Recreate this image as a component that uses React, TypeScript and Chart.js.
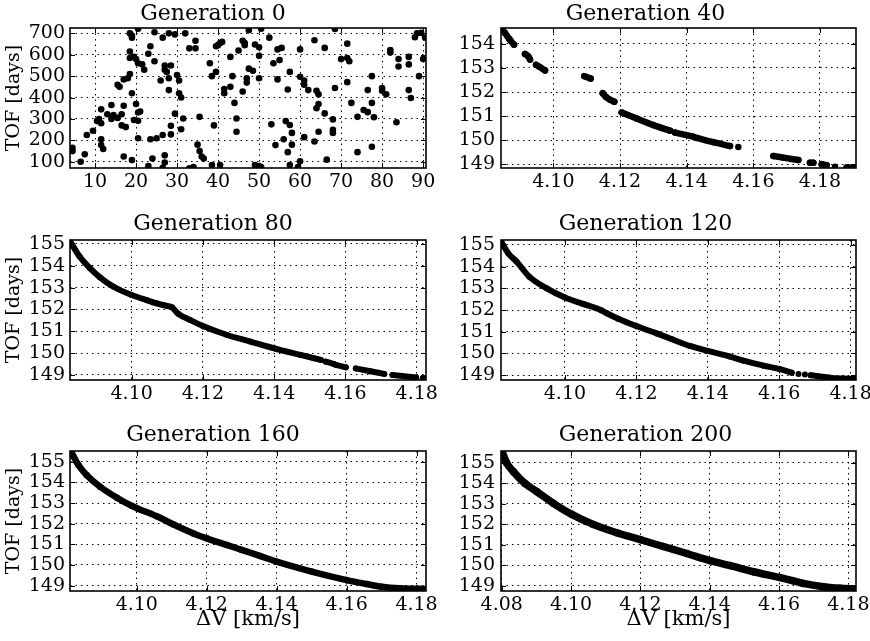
import React, { useEffect, useRef } from "react";
import { Chart, registerables } from "chart.js";

Chart.register(...registerables);

// ---------------- data ----------------
const GEN0_POINTS: [number, number][] = [
  [4.5, 165], [4.5, 150], [6.5, 100], [7.5, 135], [8, 225], [9.5, 245], [10.5, 290], [11, 300],
  [11.5, 345], [11.5, 280], [11.5, 205], [11.5, 178], [12, 160], [13, 322], [14, 365], [14, 300],
  [14.5, 318], [15.5, 305], [15.5, 460], [16, 450], [16.5, 322], [16.5, 270], [17, 362], [17, 485],
  [17, 125], [17.5, 262], [18, 490], [18.5, 510], [18.5, 615], [18.5, 585], [18.5, 700], [19, 680],
  [19, 690], [19, 420], [19.5, 295], [19.5, 590], [19, 108], [20, 580], [20, 370], [20.5, 330],
  [20.5, 292], [20.5, 560], [20.5, 210], [21, 335], [20.5, 722], [21.5, 555], [22, 530], [23, 605],
  [23.5, 640], [23, 80], [23.5, 205], [24, 115], [24.5, 570], [24.5, 705], [25, 210], [26, 480],
  [26.5, 225], [26.5, 680], [27, 550], [27, 530], [27, 97], [27, 130], [27.5, 520], [26.5, 72],
  [28, 700], [28, 490], [28, 435], [28.5, 550], [28.5, 228], [28.5, 268], [29.5, 695], [29.5, 325],
  [30, 505], [30.5, 420], [30.5, 480], [31, 400], [31, 252], [31.5, 302], [32, 700], [33, 630],
  [33, 70], [34, 75], [34.5, 630], [34.5, 665], [35, 180], [35.5, 310], [35.5, 150], [36, 125],
  [36.5, 115], [38, 560], [38.5, 500], [38.5, 85], [39, 270], [39.5, 640], [39.5, 520], [40, 645],
  [40.5, 655], [41, 660], [40.5, 85], [41.5, 440], [41.5, 420], [43, 450], [43, 590], [43.5, 500],
  [44, 375], [44.5, 302], [44.5, 240], [45, 620], [46, 665], [46.5, 655], [46.5, 645], [46, 428],
  [47, 490], [47, 470], [47.5, 535], [47.5, 715], [48.5, 525], [49, 648], [49, 85], [50, 635],
  [50, 595], [50, 490], [50, 80], [50.5, 75], [50.5, 722], [52.5, 680], [53, 275], [53.5, 560],
  [54, 178], [54.5, 485], [54.5, 625], [55, 575], [55.5, 632], [56, 205], [56.5, 290], [57, 438],
  [57, 145], [57.5, 520], [57.5, 272], [57.5, 85], [58, 235], [58, 180], [59.5, 75], [60, 625],
  [60, 497], [60, 102], [61, 460], [61, 480], [61, 215], [62, 435], [63.5, 668], [63.5, 195],
  [64, 432], [64, 350], [64.5, 415], [64.5, 370], [64.5, 240], [66, 326], [66, 632], [66.5, 110],
  [68, 298], [68, 250], [68, 235], [68.5, 445], [68.5, 720], [70, 580], [71.5, 652], [71.5, 585],
  [71.5, 472], [72, 570], [72.5, 375], [74, 310], [74, 145], [75.5, 342], [76.5, 332], [76.5, 435],
  [77.5, 375], [77.5, 500], [77.5, 170], [78, 308], [80, 445], [80, 432], [81, 415], [82, 622],
  [82, 610], [83.5, 285], [84, 545], [84, 580], [86.5, 435], [86.5, 555], [86.5, 590], [87, 398],
  [88, 682], [88.5, 700], [89, 500], [89.5, 702], [90, 580], [90.5, 680],
];

const GEN40_SEGMENTS: [number, number][][] = [
  [[4.0843, 154.66], [4.0855, 154.45], [4.0868, 154.2], [4.0882, 153.97]],
  [[4.0915, 153.58], [4.0925, 153.48], [4.093, 153.35]],
  [[4.0948, 153.13], [4.0958, 153.05], [4.0975, 152.9]],
  [[4.1093, 152.66], [4.1112, 152.56]],
  [[4.1148, 151.95], [4.1158, 151.8], [4.117, 151.68], [4.1183, 151.6]],
  [[4.1205, 151.15], [4.125, 150.9], [4.13, 150.63], [4.135, 150.4]],
  [[4.1365, 150.32], [4.142, 150.15]],
  [[4.143, 150.1], [4.148, 149.92], [4.153, 149.76]],
  [[4.1555, 149.72]],
  [[4.166, 149.35], [4.169, 149.28], [4.1735, 149.18]],
  [[4.177, 149.07], [4.178, 149.07]],
  [[4.1805, 149.01], [4.182, 148.96]],
  [[4.1845, 148.9]],
  [[4.188, 148.87], [4.191, 148.86]],
];

const GEN80_SEGMENTS: [number, number][][] = [
  [
    [4.0828, 155.1], [4.0854, 154.42], [4.0883, 153.89], [4.0911, 153.47], [4.0948, 153.05],
    [4.1, 152.66], [4.1042, 152.43], [4.107, 152.28], [4.1099, 152.16], [4.1113, 152.1],
    [4.1131, 151.8], [4.1164, 151.52], [4.12, 151.24], [4.1268, 150.83], [4.1333, 150.53],
    [4.14, 150.22], [4.1474, 149.92], [4.1531, 149.69],
  ],
  [[4.1545, 149.61], [4.1568, 149.5]],
  [[4.1573, 149.46], [4.1601, 149.35]],
  [[4.1629, 149.3], [4.167, 149.17], [4.1709, 149.05]],
  [[4.1732, 149.0], [4.1798, 148.89]],
  [[4.1817, 148.85], [4.1831, 148.85]],
];

const GEN120_SEGMENTS: [number, number][][] = [
  [
    [4.082, 155.2], [4.0841, 154.62], [4.0865, 154.23], [4.09, 153.54], [4.0949, 153.0],
    [4.1, 152.58], [4.1051, 152.28], [4.11, 152.0], [4.1117, 151.85], [4.1149, 151.6],
    [4.12, 151.26], [4.1257, 150.92], [4.13, 150.65], [4.135, 150.34], [4.14, 150.11],
    [4.1462, 149.85], [4.15, 149.66], [4.1556, 149.43], [4.16, 149.28], [4.1635, 149.11],
  ],
  [[4.1654, 149.05]],
  [[4.1672, 149.02]],
  [[4.1688, 148.99], [4.174, 148.88], [4.178, 148.84], [4.182, 148.82]],
];

const GEN160_SEGMENTS: [number, number][][] = [
  [
    [4.0811, 155.53], [4.0833, 154.84], [4.0857, 154.35], [4.0895, 153.79], [4.0943, 153.26],
    [4.0986, 152.86], [4.1002, 152.74], [4.1057, 152.36], [4.1105, 151.96],
    [4.1162, 151.53], [4.12, 151.29], [4.1257, 150.97], [4.13, 150.73], [4.1352, 150.44],
    [4.14, 150.16], [4.15, 149.68], [4.16, 149.27], [4.1657, 149.08], [4.17, 148.95],
    [4.1752, 148.87], [4.1829, 148.84],
  ],
];

const GEN200_SEGMENTS: [number, number][][] = [
  [
    [4.08, 155.59], [4.0814, 155.0], [4.0834, 154.56], [4.0867, 153.99], [4.0901, 153.59],
    [4.0949, 153.02], [4.1002, 152.48], [4.1064, 151.99], [4.1132, 151.58], [4.1201, 151.24],
    [4.1266, 150.91], [4.1334, 150.57], [4.1401, 150.22], [4.1459, 149.98], [4.1526, 149.68],
    [4.1601, 149.4], [4.167, 149.11], [4.1728, 148.95], [4.1776, 148.87], [4.1824, 148.85],
  ],
];

const GEN0_X_TICKS = [10, 20, 30, 40, 50, 60, 70, 80, 90];
const GEN0_Y_TICKS = [100, 200, 300, 400, 500, 600, 700];
const DV_TICKS = [4.08, 4.1, 4.12, 4.14, 4.16, 4.18];
const TOF_TICKS = [149, 150, 151, 152, 153, 154, 155];

const TITLES = ["Generation 0", "Generation 40", "Generation 80", "Generation 120", "Generation 160", "Generation 200"];
const Y_LABEL = "TOF [days]";
const X_LABEL = "ΔV [km/s]";

// ---------------- layout / style ----------------
const SERIF = "'DejaVu Serif', 'Liberation Serif', serif";

const COLS = [
  { left: 0, width: 496, axisW: 70, padR: 70, labelPad: 5 },
  { left: 435, width: 487, axisW: 66, padR: 66, labelPad: 6 },
];
const ROWS = [
  { top: 0, height: 211, tTop: 3, tBot: 3, axisH: 43 },
  { top: 211, height: 211, tTop: 2.5, tBot: 4.5, axisH: 42 },
  { top: 422, height: 219, tTop: 2.5, tBot: 4.5, axisH: 50 },
];

type PanelSpec = {
  title: string;
  points?: [number, number][];
  segments?: [number, number][][];
  xRange: [number, number];
  yRange: [number, number];
  xTicks: number[];
  yTicks: number[];
  xDecimals: number;
  col: number;
  row: number;
  lw: number;
};

const PANELS: PanelSpec[] = [
  { title: TITLES[0], points: GEN0_POINTS, xRange: [3.9, 90.7], yRange: [71, 725], xTicks: GEN0_X_TICKS, yTicks: GEN0_Y_TICKS, xDecimals: 0, col: 0, row: 0, lw: 6.6 },
  { title: TITLES[1], segments: GEN40_SEGMENTS, xRange: [4.0843, 4.1908], yRange: [148.85, 154.66], xTicks: DV_TICKS, yTicks: TOF_TICKS, xDecimals: 2, col: 1, row: 0, lw: 6.5 },
  { title: TITLES[2], segments: GEN80_SEGMENTS, xRange: [4.0827, 4.1826], yRange: [148.77, 155.18], xTicks: DV_TICKS, yTicks: TOF_TICKS, xDecimals: 2, col: 0, row: 1, lw: 6 },
  { title: TITLES[3], segments: GEN120_SEGMENTS, xRange: [4.0821, 4.1815], yRange: [148.77, 155.23], xTicks: DV_TICKS, yTicks: TOF_TICKS, xDecimals: 2, col: 1, row: 1, lw: 6 },
  { title: TITLES[4], segments: GEN160_SEGMENTS, xRange: [4.0809, 4.1827], yRange: [148.74, 155.52], xTicks: DV_TICKS, yTicks: TOF_TICKS, xDecimals: 2, col: 0, row: 2, lw: 6.5 },
  { title: TITLES[5], segments: GEN200_SEGMENTS, xRange: [4.0798, 4.1822], yRange: [148.74, 155.57], xTicks: DV_TICKS, yTicks: TOF_TICKS, xDecimals: 2, col: 1, row: 2, lw: 7.5 },
];

const inRange = (v: number, r: [number, number]) => v >= r[0] - 1e-9 && v <= r[1] + 1e-9;

const frameTicks = {
  id: "frameTicks",
  afterDatasetsDraw(chart: any) {
    const { ctx, chartArea } = chart;
    const { left, right, top, bottom } = chartArea;
    const xs = chart.scales.x;
    const ys = chart.scales.y;
    ctx.save();
    ctx.strokeStyle = "#000";
    ctx.lineWidth = 1;
    ctx.beginPath();
    xs.ticks.forEach((t: any) => {
      const px = Math.round(xs.getPixelForValue(t.value)) + 0.5;
      ctx.moveTo(px, bottom);
      ctx.lineTo(px, bottom - 5);
      ctx.moveTo(px, top);
      ctx.lineTo(px, top + 5);
    });
    ys.ticks.forEach((t: any) => {
      const py = Math.round(ys.getPixelForValue(t.value)) + 0.5;
      ctx.moveTo(left, py);
      ctx.lineTo(left + 5, py);
      ctx.moveTo(right, py);
      ctx.lineTo(right - 5, py);
    });
    ctx.stroke();
    ctx.lineWidth = 1.6;
    ctx.strokeRect(left, top, right - left, bottom - top);
    ctx.restore();
  },
};

function buildData(spec: PanelSpec) {
  if (spec.points) return spec.points.map(([x, y]) => ({ x, y }));
  const out: any[] = [];
  (spec.segments || []).forEach((seg, i) => {
    if (i > 0) out.push({ x: null, y: null });
    seg.forEach(([x, y]) => out.push({ x, y }));
  });
  return out;
}

function Panel({ spec }: { spec: PanelSpec }) {
  const ref = useRef<HTMLCanvasElement | null>(null);
  const col = COLS[spec.col];
  const row = ROWS[spec.row];
  useEffect(() => {
    if (!ref.current) return;
    const isCurve = !spec.points;
    const tickFont = { family: SERIF, size: 19, lineHeight: 1.2 };
    const xTicks = spec.xTicks.filter((v) => inRange(v, spec.xRange));
    const yTicks = spec.yTicks.filter((v) => inRange(v, spec.yRange));
    const chart = new Chart(ref.current, {
      type: "scatter",
      data: {
        datasets: [
          {
            data: buildData(spec),
            showLine: isCurve,
            borderColor: "#000",
            backgroundColor: "#000",
            borderWidth: spec.lw,
            borderCapStyle: "round",
            borderJoinStyle: "round",
            cubicInterpolationMode: "monotone",
            pointRadius: spec.lw / 2,
            pointBorderWidth: 0,
            pointBackgroundColor: "#000",
            pointHoverRadius: spec.lw / 2,
            spanGaps: false,
            clip: 0,
          } as any,
        ],
      },
      options: {
        responsive: false,
        animation: false,
        devicePixelRatio: 1,
        events: [],
        layout: { padding: { left: 0, right: col.padR, top: 0, bottom: 0 } },
        plugins: {
          legend: { display: false },
          tooltip: { enabled: false },
          title: {
            display: true,
            text: spec.title,
            color: "#000",
            font: { family: SERIF, size: 22, lineHeight: 1, weight: "normal" },
            padding: { top: row.tTop, bottom: row.tBot },
          },
        },
        scales: {
          x: {
            type: "linear",
            position: "bottom",
            bounds: "data",
            min: spec.xRange[0],
            max: spec.xRange[1],
            afterBuildTicks: (s: any) => {
              s.ticks = xTicks.map((v) => ({ value: v }));
            },
            afterFit: (s: any) => {
              s.height = row.axisH;
              s.paddingLeft = 0;
              s.paddingRight = 0;
            },
            ticks: {
              autoSkip: false,
              maxRotation: 0,
              minRotation: 0,
              padding: 2.5,
              color: "#000",
              font: tickFont,
              callback: (v: any) => Number(v).toFixed(spec.xDecimals),
            },
            grid: { color: "#000", lineWidth: 1, drawTicks: false },
            border: { display: false, dash: [1.5, 4] },
            title: {
              display: spec.row === 2,
              text: X_LABEL,
              color: "#000",
              font: { family: SERIF, size: 21, lineHeight: 1 },
              padding: { top: 0, bottom: 11 },
            },
          },
          y: {
            type: "linear",
            position: "left",
            bounds: "data",
            min: spec.yRange[0],
            max: spec.yRange[1],
            afterBuildTicks: (s: any) => {
              s.ticks = yTicks.map((v) => ({ value: v }));
            },
            afterFit: (s: any) => {
              s.width = col.axisW;
              s.paddingTop = 0;
              s.paddingBottom = 0;
            },
            ticks: {
              autoSkip: false,
              padding: col.labelPad,
              color: "#000",
              font: tickFont,
              callback: (v: any) => String(Math.round(Number(v))),
            },
            grid: { color: "#000", lineWidth: 1, drawTicks: false },
            border: { display: false, dash: [1.5, 4] },
            title: {
              display: spec.col === 0,
              text: Y_LABEL,
              color: "#000",
              font: { family: SERIF, size: 19, lineHeight: 1 },
              padding: { top: 5, bottom: 0 },
            },
          },
        },
      } as any,
      plugins: [frameTicks as any],
    });
    return () => chart.destroy();
  }, [spec]);
  return (
    <canvas
      ref={ref}
      width={col.width}
      height={row.height}
      style={{ position: "absolute", left: col.left, top: row.top, width: col.width, height: row.height }}
    />
  );
}

export default function App() {
  return (
    <div style={{ position: "absolute", left: 0, top: 0, width: 870, height: 641, overflow: "hidden", background: "#fff" }}>
      {PANELS.map((p) => (
        <Panel key={p.title} spec={p} />
      ))}
    </div>
  );
}
